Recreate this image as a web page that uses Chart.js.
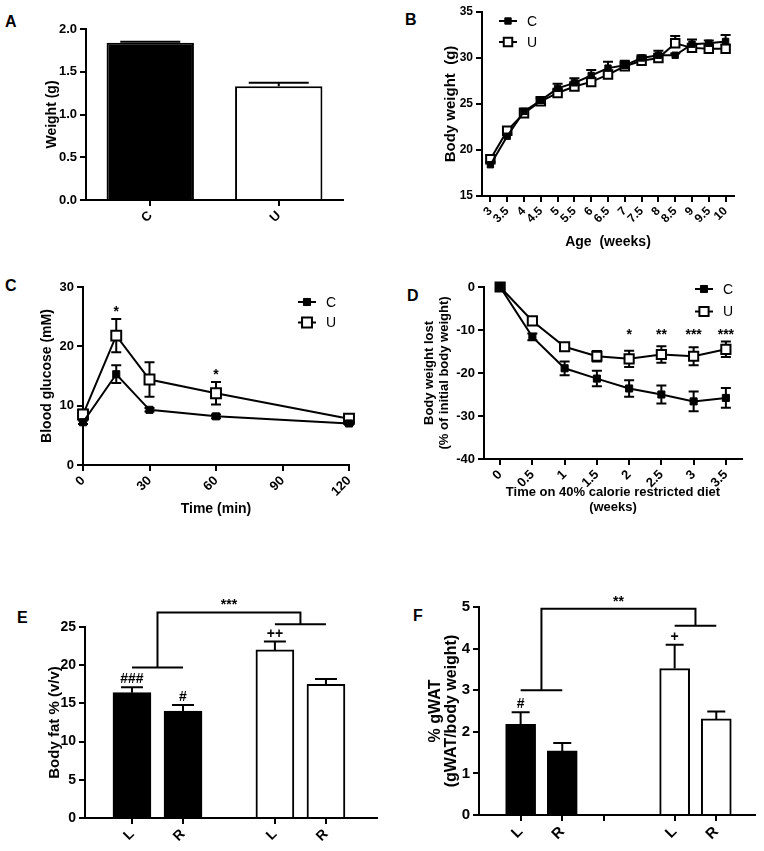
<!DOCTYPE html>
<html lang="en">
<head>
<meta charset="UTF-8">
<title>Body weight and adiposity panels</title>
<script src="https://cdn.jsdelivr.net/npm/chart.js"></script>
<style>
    body { margin: 0; background: #fff; }
    #fig { position: relative; width: 764px; height: 851px; font-family: 'Liberation Sans', Arial, sans-serif; }
    #fig canvas { position: absolute; }
    .tag { position: absolute; font-weight: bold; font-size: 16px; line-height: 16px; color: #000; }
</style>
</head>
<body>
<div id="fig">
    <div class="tag" style="left:5px;top:14px">A</div>
    <div class="tag" style="left:405px;top:12px">B</div>
    <div class="tag" style="left:5px;top:278px">C</div>
    <div class="tag" style="left:407px;top:288px">D</div>
    <div class="tag" style="left:17px;top:610px">E</div>
    <div class="tag" style="left:413px;top:608px">F</div>
</div>

<script>
// ---------- data ----------
const seriesNames = ['C', 'U'];

// A: weight per group
const weightA = [1.84, 1.33];
const weightErrA = [0.01, 0.04];

// B: body weight by age
const ageB = ['3', '3.5', '4', '4.5', '5', '5.5', '6', '6.5', '7', '7.5', '8', '8.5', '9', '9.5', '10'];
const bodyC_B = [18.4, 21.5, 24.2, 25.4, 26.7, 27.3, 28.1, 28.9, 29.2, 30.0, 30.3, 30.3, 31.5, 31.6, 31.8];
const bodyU_B = [19.0, 22.1, 24.0, 25.3, 26.2, 26.9, 27.4, 28.2, 29.1, 29.7, 30.0, 31.6, 31.1, 31.0, 31.0];
const bodyErrC_B = [0.3, 0.3, 0.3, 0.3, 0.5, 0.5, 0.6, 0.7, 0.5, 0.3, 0.5, 0.2, 0.5, 0.3, 0.7];
const bodyErrU_B = [0.4, 0.4, 0.3, 0.3, 0.3, 0.3, 0.3, 0.3, 0.3, 0.3, 0.3, 0.8, 0.4, 0.3, 0.4];

// C: glucose tolerance
const timeC = [0, 15, 30, 60, 120];
const glucC = [7.2, 15.3, 9.3, 8.2, 7.0];
const glucU = [8.5, 21.8, 14.4, 12.1, 7.8];
const glucErrC = [0.3, 1.5, 0.3, 0.3, 0.2];
const glucErrU = [0.8, 2.8, 2.9, 1.9, 0.5];
const glucSig = ['', '*', '', '*', ''];

// D: weight lost on calorie restriction
const weeksD = ['0', '0.5', '1', '1.5', '2', '2.5', '3', '3.5'];
const lostC = [0, -11.6, -18.9, -21.3, -23.6, -25.0, -26.6, -25.8];
const lostU = [0, -7.9, -13.9, -16.1, -16.7, -15.7, -16.1, -14.5];
const lostErrC = [0, 0.8, 1.6, 1.8, 1.9, 2.1, 2.3, 2.3];
const lostErrU = [0, 0.6, 0.7, 1.2, 1.9, 1.9, 2.1, 1.8];
const lostSig = ['', '', '', '', '*', '**', '***', '***'];
const lostSigLevel = -10.5;

// E, F: L / R for each group
const sideLabels = ['L', 'R', 'L', 'R'];
const fatE = [16.4, 14.0, 22.0, 17.5];
const fatErrE = [0.7, 0.8, 1.1, 0.7];
const fatMarksE = ['###', '#', '++', ''];
const fatBracketE = [19.7, 25.35, 26.9];
const fatBracketLabelE = '***';

const gwatF = [2.18, 1.54, 3.52, 2.31];
const gwatErrF = [0.29, 0.19, 0.57, 0.18];
const gwatMarksF = ['#', '', '+', ''];
const gwatBracketF = [3.0, 4.55, 4.96];
const gwatBracketLabelF = '**';

// ---------- helpers ----------
const FONT = "'Liberation Sans', Arial, sans-serif";
Chart.defaults.font.family = FONT;
Chart.defaults.color = '#000';
const fig = document.getElementById('fig');

function addCanvas(box) {
    const c = document.createElement('canvas');
    c.width = box[2];
    c.height = box[3];
    c.style.left = box[0] + 'px';
    c.style.top = box[1] + 'px';
    fig.appendChild(c);
    return c;
}

// error bars, drawn under the markers for lines and over the bars
function drawErrors(chart) {
    const ctx = chart.ctx;
    const ys = chart.scales.y;
    chart.data.datasets.forEach((ds, di) => {
        if (!ds.errors) return;
        const meta = chart.getDatasetMeta(di);
        ctx.save();
        ctx.strokeStyle = '#000';
        ctx.lineWidth = 2;
        meta.data.forEach((el, i) => {
            const e = ds.errors[i];
            if (!e) return;
            const raw = ds.data[i];
            const v = typeof raw === 'object' ? raw.y : raw;
            const top = ys.getPixelForValue(v + e);
            const bottom = ds.errorBoth ? ys.getPixelForValue(v - e) : el.y;
            const hw = ds.capWidth / 2;
            ctx.beginPath();
            ctx.moveTo(el.x, top);
            ctx.lineTo(el.x, bottom);
            ctx.moveTo(el.x - hw, top);
            ctx.lineTo(el.x + hw, top);
            if (ds.errorBoth) {
                ctx.moveTo(el.x - hw, bottom);
                ctx.lineTo(el.x + hw, bottom);
            }
            ctx.stroke();
        });
        ctx.restore();
    });
}

const errorBars = {
    id: 'errorBars',
    beforeDatasetsDraw(chart, args, opts) { if (opts.under) drawErrors(chart); },
    afterDatasetsDraw(chart, args, opts) { if (!opts.under) drawErrors(chart); }
};

// significance marks above points / bars
const sigMarks = {
    id: 'sigMarks',
    afterDatasetsDraw(chart, args, opts) {
        if (!opts.labels) return;
        const ctx = chart.ctx;
        const ys = chart.scales.y;
        const ds = chart.data.datasets[opts.dataset || 0];
        const meta = chart.getDatasetMeta(opts.dataset || 0);
        ctx.save();
        ctx.fillStyle = '#000';
        ctx.font = opts.font;
        ctx.textAlign = 'center';
        ctx.textBaseline = 'alphabetic';
        opts.labels.forEach((t, i) => {
            if (!t) return;
            const raw = ds.data[i];
            const v = typeof raw === 'object' ? raw.y : raw;
            let y;
            if (opts.level != null) y = ys.getPixelForValue(opts.level) + opts.shift;
            else y = ys.getPixelForValue(v + (ds.errors ? ds.errors[i] : 0)) - opts.gap;
            ctx.fillText(t, meta.data[i].x, y);
        });
        ctx.restore();
    }
};

// group comparison brackets
const brackets = {
    id: 'brackets',
    afterDatasetsDraw(chart, args, opts) {
        if (!opts.levels) return;
        const ctx = chart.ctx;
        const xs = chart.scales.x, ys = chart.scales.y;
        const [a0, a1, b0, b1] = opts.pos.map(p => xs.getPixelForValue(p));
        const [low, high, top] = opts.levels.map(v => ys.getPixelForValue(v));
        const ma = (a0 + a1) / 2, mb = (b0 + b1) / 2;
        ctx.save();
        ctx.strokeStyle = '#000';
        ctx.lineWidth = 2;
        ctx.beginPath();
        ctx.moveTo(a0, low); ctx.lineTo(a1, low);
        ctx.moveTo(ma, low); ctx.lineTo(ma, top); ctx.lineTo(mb, top); ctx.lineTo(mb, high);
        ctx.moveTo(b0, high); ctx.lineTo(b1, high);
        ctx.stroke();
        ctx.fillStyle = '#000';
        ctx.font = opts.font;
        ctx.textAlign = 'center';
        ctx.fillText(opts.label, (ma + mb) / 2, top - 3);
        ctx.restore();
    }
};

// legend with line + marker, placed inside the panel
const lineKey = {
    id: 'lineKey',
    afterDraw(chart, args, opts) {
        if (opts.x == null) return;
        const ctx = chart.ctx;
        ctx.save();
        chart.data.datasets.forEach((ds, i) => {
            const x = opts.x, y = opts.y + i * opts.step;
            ctx.strokeStyle = '#000';
            ctx.lineWidth = 2;
            ctx.beginPath();
            ctx.moveTo(x - 9, y);
            ctx.lineTo(x + 9, y);
            ctx.stroke();
            ctx.fillStyle = ds.pointBackgroundColor;
            ctx.lineWidth = ds.pointBorderWidth;
            Chart.helpers.drawPoint(ctx, { pointStyle: 'rect', rotation: 0, radius: ds.pointRadius, borderWidth: ds.pointBorderWidth }, x, y);
            ctx.fillStyle = '#000';
            ctx.font = opts.font;
            ctx.textBaseline = 'middle';
            ctx.fillText(ds.label, x + 19, y + 1);
        });
        ctx.restore();
    }
};

Chart.register(errorBars, sigMarks, brackets, lineKey);

function yAxis(o) {
    return {
        min: o.min, max: o.max,
        ticks: {
            stepSize: o.step, padding: 3,
            font: { size: o.size, weight: 'bold' },
            callback: o.fmt || (v => v)
        },
        grid: { drawOnChartArea: false, color: '#000', lineWidth: 2, tickLength: 6 },
        border: { color: '#000', width: 2 },
        title: {
            display: true, text: o.title,
            font: { size: o.titleSize, weight: 'bold', lineHeight: o.lineHeight || 1.2 },
            padding: { top: o.titlePad, bottom: 0 }
        },
        afterFit(s) { s.width = o.width; }
    };
}

function xAxis(o) {
    const ax = {
        type: o.type || 'category',
        offset: o.type !== 'linear',
        ticks: {
            autoSkip: false, minRotation: 45, maxRotation: 45, padding: 2,
            font: { size: o.size, weight: 'bold' }
        },
        grid: { drawOnChartArea: false, color: '#000', lineWidth: 2, tickLength: 6, offset: false },
        border: { color: '#000', width: 2 },
        title: o.title ? {
            display: true, text: o.title,
            font: { size: o.titleSize, weight: 'bold', lineHeight: 1.2 },
            padding: { top: 0, bottom: o.titlePad }
        } : { display: false },
        afterFit(s) { s.height = o.height; }
    };
    return Object.assign(ax, o.extra || {});
}

function baseOptions(box, area) {
    return {
        responsive: false,
        animation: false,
        events: [],
        layout: { padding: { left: 0, top: area[1] - box[1], right: box[0] + box[2] - area[2], bottom: 0 } },
        plugins: { legend: { display: false }, tooltip: { enabled: false } }
    };
}

function lineSet(label, data, errors, filled, radius, both) {
    return {
        label, data, errors,
        errorBoth: both, capWidth: 10,
        borderColor: '#000', borderWidth: 2, tension: 0,
        pointStyle: 'rect',
        pointRadius: radius,
        pointBackgroundColor: filled ? '#000' : '#fff',
        pointBorderColor: '#000',
        pointBorderWidth: filled ? 1 : 2,
        clip: false
    };
}

// ---------- A ----------
(function () {
    const box = [0, 0, 382, 270], area = [86, 29, 343, 200];
    const opts = baseOptions(box, area);
    opts.scales = {
        x: xAxis({ height: box[1] + box[3] - area[3], size: 13 }),
        y: yAxis({ min: 0, max: 2, step: 0.5, size: 13, width: area[0] - box[0], fmt: v => v.toFixed(1),
            title: 'Weight (g)', titleSize: 14, titlePad: 43.6 })
    };
    new Chart(addCanvas(box), {
        type: 'bar',
        data: {
            labels: seriesNames,
            datasets: [{
                data: weightA, errors: weightErrA, capWidth: 60,
                backgroundColor: ['#000', '#fff'], borderColor: '#000', borderWidth: 2,
                barPercentage: 0.68, categoryPercentage: 1
            }]
        },
        options: opts
    });
})();

// ---------- B ----------
(function () {
    const box = [382, 0, 382, 290], area = [482, 12, 734, 196];
    const opts = baseOptions(box, area);
    opts.scales = {
        x: xAxis({ height: box[1] + box[3] - area[3], size: 12, title: 'Age  (weeks)', titleSize: 14, titlePad: 39.6 }),
        y: yAxis({ min: 15, max: 35, step: 5, size: 12, width: area[0] - box[0],
            title: 'Body weight  (g)', titleSize: 15, titlePad: 59.5 })
    };
    opts.plugins.errorBars = { under: true };
    opts.plugins.lineKey = { x: 126, y: 21, step: 21, font: '14px ' + FONT };
    new Chart(addCanvas(box), {
        type: 'line',
        data: {
            labels: ageB,
            datasets: [
                lineSet(seriesNames[0], bodyC_B, bodyErrC_B, true, 4.5, false),
                lineSet(seriesNames[1], bodyU_B, bodyErrU_B, false, 6, false)
            ]
        },
        options: opts
    });
})();

// ---------- C ----------
(function () {
    const box = [0, 270, 382, 260], area = [83, 287, 349, 465];
    const opts = baseOptions(box, area);
    opts.scales = {
        x: xAxis({ type: 'linear', height: box[1] + box[3] - area[3], size: 13, title: 'Time (min)', titleSize: 14, titlePad: 12.6,
            extra: { min: 0, max: 120 } }),
        y: yAxis({ min: 0, max: 30, step: 10, size: 13, width: area[0] - box[0],
            title: 'Blood glucose (mM)', titleSize: 14, titlePad: 38.3 })
    };
    opts.scales.x.ticks.stepSize = 30;
    opts.plugins.errorBars = { under: true };
    opts.plugins.lineKey = { x: 307, y: 32, step: 20.5, font: '14px ' + FONT };
    opts.plugins.sigMarks = { labels: glucSig, dataset: 1, gap: 3, font: 'bold 14px ' + FONT };
    const xy = (vals) => vals.map((v, i) => ({ x: timeC[i], y: v }));
    new Chart(addCanvas(box), {
        type: 'line',
        data: {
            datasets: [
                lineSet(seriesNames[0], xy(glucC), glucErrC, true, 5, true),
                lineSet(seriesNames[1], xy(glucU), glucErrU, false, 7, true)
            ]
        },
        options: opts
    });
})();

// ---------- D ----------
(function () {
    const box = [382, 270, 382, 260], area = [484, 287, 742, 459];
    const opts = baseOptions(box, area);
    opts.scales = {
        x: xAxis({ height: box[1] + box[3] - area[3], size: 13,
            title: ['Time on 40% calorie restricted diet', '(weeks)'], titleSize: 13, titlePad: 14.6 }),
        y: yAxis({ min: -40, max: 0, step: 10, size: 13, width: area[0] - box[0],
            title: ['Body weight lost', '(% of initial body weight)'], titleSize: 13, titlePad: 39.2 })
    };
    opts.plugins.errorBars = { under: true };
    opts.plugins.lineKey = { x: 322, y: 19, step: 22.5, font: '14px ' + FONT };
    opts.plugins.sigMarks = { labels: lostSig, level: lostSigLevel, shift: 7, font: 'bold 14px ' + FONT };
    new Chart(addCanvas(box), {
        type: 'line',
        data: {
            labels: weeksD,
            datasets: [
                lineSet(seriesNames[0], lostC, lostErrC, true, 5, true),
                lineSet(seriesNames[1], lostU, lostErrU, false, 6.5, true)
            ]
        },
        options: opts
    });
})();

// ---------- E / F bar groups ----------
function groupedBars(box, area, cfg) {
    // two groups of L/R bars, with a gap (in bar slots) between the groups
    const pos = sideLabels.map((_, i) => Math.floor(i / 2) * (2 + cfg.gap) + (i % 2));
    const tickPos = pos.concat(cfg.midTick ? [2] : []).sort((a, b) => a - b);
    const opts = baseOptions(box, area);
    opts.scales = {
        x: xAxis({ type: 'linear', height: box[1] + box[3] - area[3], size: cfg.tickSize,
            extra: {
                min: cfg.min, max: cfg.max,
                afterBuildTicks(s) { s.ticks = tickPos.map(v => ({ value: v })); }
            } }),
        y: yAxis({ min: 0, max: cfg.max_y, step: cfg.step, size: cfg.tickSize, width: area[0] - box[0],
            title: cfg.title, titleSize: cfg.titleSize, titlePad: cfg.titlePad, lineHeight: cfg.lineHeight })
    };
    opts.scales.x.ticks.callback = (v) => {
        const i = pos.indexOf(v);
        return i >= 0 ? sideLabels[i] : '';
    };
    opts.plugins.sigMarks = { labels: cfg.marks, gap: 4, font: 'bold 14px ' + FONT };
    opts.plugins.brackets = { pos, levels: cfg.bracket, label: cfg.bracketLabel, font: 'bold 14px ' + FONT };
    new Chart(addCanvas(box), {
        type: 'bar',
        data: {
            datasets: [{
                data: cfg.values.map((v, i) => ({ x: pos[i], y: v })),
                errors: cfg.errors, capWidth: cfg.cap,
                backgroundColor: ['#000', '#000', '#fff', '#fff'], borderColor: '#000', borderWidth: 2,
                barThickness: cfg.barWidth
            }]
        },
        options: opts
    });
}

groupedBars([0, 570, 382, 281], [85, 627, 377, 818], {
    gap: 0.8, min: -0.92, max: 4.8, max_y: 25, step: 5, tickSize: 14,
    title: 'Body fat % (v/v)', titleSize: 15, titlePad: 46,
    values: fatE, errors: fatErrE, marks: fatMarksE,
    bracket: fatBracketE, bracketLabel: fatBracketLabelE,
    barWidth: 38, cap: 22
});

groupedBars([382, 570, 382, 281], [479, 607, 755, 815], {
    gap: 1.7, min: -1.0, max: 5.63, max_y: 5, step: 1, tickSize: 15, midTick: true,
    title: ['% gWAT', '(gWAT/body weight)'], titleSize: 16, lineHeight: 1.0, titlePad: 46,
    values: gwatF, errors: gwatErrF, marks: gwatMarksF,
    bracket: gwatBracketF, bracketLabel: gwatBracketLabelF,
    barWidth: 30, cap: 18
});
</script>
</body>
</html>
